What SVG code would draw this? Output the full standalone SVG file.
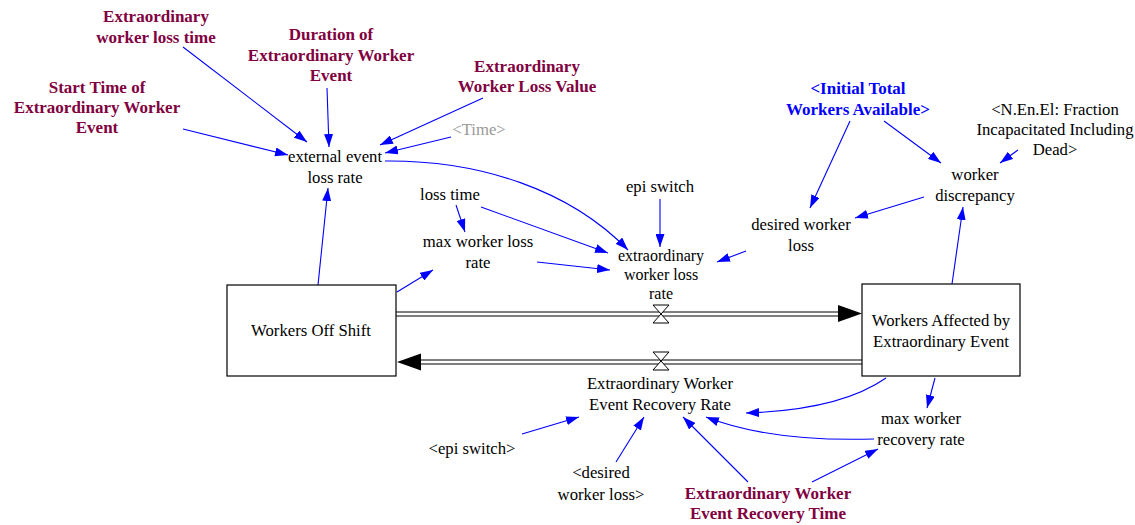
<svg xmlns="http://www.w3.org/2000/svg" width="1135" height="525" viewBox="0 0 1135 525">
<style>
text{font-family:"Liberation Serif","Times New Roman",serif;font-size:16.7px;text-anchor:middle;fill:#000}
.in{font-weight:bold;font-size:17px;fill:#800040}
.sh{font-weight:bold;font-size:17px;fill:#0000ff}
.gr{fill:#999999}
.tight{font-size:16px}
.stock{fill:#fff;stroke:#000;stroke-width:1.2}
.pipe{stroke:#000;stroke-width:1.2;fill:none}
.pipe2{stroke:#555;stroke-width:1.4;fill:none}
.valve{fill:#fff;stroke:#000;stroke-width:1}
.c{fill:none;stroke:#0000ff;stroke-width:1.1;marker-end:url(#ah)}
</style>
<defs>
<marker id="ah" markerUnits="userSpaceOnUse" viewBox="0 0 13 9" refX="13" refY="4.5" markerWidth="13" markerHeight="9" orient="auto">
<path d="M0,0 L13,4.5 L0,9 z" fill="#0000ff"/>
</marker>
</defs>
<rect width="1135" height="525" fill="#fff"/>

<g id="connectors">
<path class="c" d="M183,47 L307,142"/>
<path class="c" d="M327,88 L329,147"/>
<path class="c" d="M483,98 L380,145"/>
<path class="c" d="M451,137 L385,153"/>
<path class="c" d="M183,129 L288,155"/>
<path class="c" d="M385,161 C480,160 570,190 628,250"/>
<path class="c" d="M318,285 L328,188"/>
<path class="c" d="M397,292 L433,270"/>
<path class="c" d="M456,205 L465,232"/>
<path class="c" d="M481,207 L608,253"/>
<path class="c" d="M537,262 L610,270"/>
<path class="c" d="M660,199 L660,247"/>
<path class="c" d="M746,251 L717,262"/>
<path class="c" d="M850,121 L810,208"/>
<path class="c" d="M884,121 L941,163"/>
<path class="c" d="M1018,150 L1000,163"/>
<path class="c" d="M924,197 L855,218"/>
<path class="c" d="M952,284 L963,207"/>
<path class="c" d="M886,378 Q840,410 746,413"/>
<path class="c" d="M935,378 L927,408"/>
<path class="c" d="M874,439 Q770,442 706,417"/>
<path class="c" d="M748,482 L683,417"/>
<path class="c" d="M812,482 L878,449"/>
<path class="c" d="M616,462 L644,417"/>
<path class="c" d="M522,434 L579,417"/>
</g>

<g id="flow-loss">
<line class="pipe" x1="396" y1="312" x2="842" y2="312"/>
<line class="pipe2" x1="396" y1="316" x2="842" y2="316"/>
<path d="M838,305 L862,313.5 L838,322 z" fill="#000"/>
<path class="valve" d="M653,305 L669,305 L661,314 L669,323 L653,323 L661,314 z"/>
</g>

<g id="flow-recovery">
<line class="pipe" x1="418" y1="360" x2="862" y2="360"/>
<line class="pipe2" x1="418" y1="364" x2="862" y2="364"/>
<path d="M421,353.5 L397,362 L421,370.5 z" fill="#000"/>
<path class="valve" d="M653,352 L669,352 L661,361 L669,370 L653,370 L661,361 z"/>
</g>

<g id="workers-off-shift">
<rect class="stock" x="227" y="285" width="169" height="91"/>
<text x="311" y="336">Workers Off Shift</text>
</g>

<g id="workers-affected">
<rect class="stock" x="862" y="284" width="158" height="92"/>
<text x="941" y="326">Workers Affected by</text>
<text x="941" y="347">Extraordinary Event</text>
</g>

<g id="extraordinary-worker-loss-time">
<text class="in" x="156" y="22">Extraordinary</text>
<text class="in" x="156" y="43">worker loss time</text>
</g>

<g id="duration">
<text class="in" x="331" y="40">Duration of</text>
<text class="in" x="331" y="61">Extraordinary Worker</text>
<text class="in" x="331" y="81">Event</text>
</g>

<g id="loss-value">
<text class="in" x="527" y="72">Extraordinary</text>
<text class="in" x="527" y="92">Worker Loss Value</text>
</g>

<g id="start-time">
<text class="in" x="97" y="93">Start Time of</text>
<text class="in" x="97" y="113">Extraordinary Worker</text>
<text class="in" x="97" y="133">Event</text>
</g>

<g id="time">
<text class="gr" x="479" y="135">&lt;Time&gt;</text>
</g>

<g id="external-event-loss-rate">
<text x="335" y="162">external event</text>
<text x="335" y="183">loss rate</text>
</g>

<g id="loss-time">
<text x="450" y="200">loss time</text>
</g>

<g id="max-worker-loss-rate">
<text x="478" y="247">max worker loss</text>
<text x="478" y="268">rate</text>
</g>

<g id="epi-switch">
<text x="660" y="192">epi switch</text>
</g>

<g id="extraordinary-worker-loss-rate">
<text class="tight" x="661" y="261">extraordinary</text>
<text class="tight" x="661" y="280">worker loss</text>
<text class="tight" x="661" y="299">rate</text>
</g>

<g id="desired-worker-loss">
<text x="801" y="230">desired worker</text>
<text x="801" y="251">loss</text>
</g>

<g id="worker-discrepancy">
<text x="975" y="180">worker</text>
<text x="975" y="201">discrepancy</text>
</g>

<g id="initial-total-workers">
<text class="sh" x="858" y="94">&lt;Initial Total</text>
<text class="sh" x="858" y="115">Workers Available&gt;</text>
</g>

<g id="fraction-incapacitated">
<text x="1055" y="115">&lt;N.En.El: Fraction</text>
<text x="1055" y="135">Incapacitated Including</text>
<text x="1055" y="155">Dead&gt;</text>
</g>

<g id="recovery-rate">
<text x="660" y="389">Extraordinary Worker</text>
<text x="660" y="410">Event Recovery Rate</text>
</g>

<g id="max-worker-recovery-rate">
<text x="921" y="424">max worker</text>
<text x="921" y="445">recovery rate</text>
</g>

<g id="epi-switch-shadow">
<text x="472" y="454">&lt;epi switch&gt;</text>
</g>

<g id="desired-worker-loss-shadow">
<text x="601" y="478">&lt;desired</text>
<text x="601" y="500">worker loss&gt;</text>
</g>

<g id="recovery-time">
<text class="in" x="768" y="499">Extraordinary Worker</text>
<text class="in" x="768" y="519">Event Recovery Time</text>
</g>
</svg>
